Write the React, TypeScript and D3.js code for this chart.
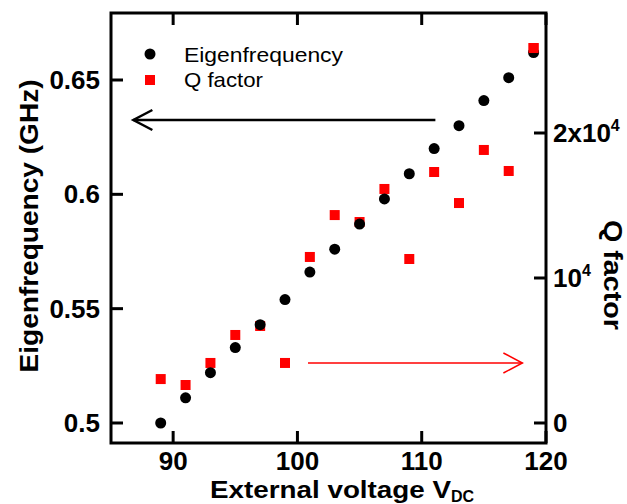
import React from 'react';
import * as d3 from 'd3';

const voltages = [89, 91, 93, 95, 97, 99, 101, 103, 105, 107, 109, 111, 113, 115, 117, 119];
const eigenfrequency = [0.5, 0.511, 0.522, 0.533, 0.543, 0.554, 0.566, 0.576, 0.587, 0.598, 0.609, 0.62, 0.63, 0.641, 0.651, 0.662];
const qFactor = [3030, 2620, 4140, 6070, 6690, 4140, 11450, 14340, 13860, 16140, 11310, 17310, 15170, 18830, 17380, 25860];

const xTicks = [90, 100, 110, 120];
const leftTicks = [0.5, 0.55, 0.6, 0.65];
const leftTickLabels = ['0.5', '0.55', '0.6', '0.65'];
const rightTicks = [0, 10000, 20000];
const rightTickLabels = [['0', ''], ['10', '4'], ['2x10', '4']];

// arrow ends in data units: [x, y]
const blackArrow = [[111.1, 0.6325], [86.8, 0.6325]];
const redArrow = [[100.85, 4140], [118.1, 4140]];

const W = 627, H = 504;
const margin = { top: 13, right: 81, bottom: 61, left: 111 };
const font = 'Liberation Sans, Arial, sans-serif';

const App = () => {
    const x = d3.scaleLinear().domain([85, 120]).range([margin.left, W - margin.right]);
    const yL = d3.scaleLinear().domain([0.49125, 0.6793]).range([H - margin.bottom, margin.top]);
    const yR = d3.scaleLinear().domain([-1380, 28276]).range([H - margin.bottom, margin.top]);

    const x0 = margin.left, x1 = W - margin.right;
    const y0 = H - margin.bottom, y1 = margin.top;
    const tick = 12;

    const arrowHead = (tx, ty, dir, len, half) =>
        `M${tx - dir * len},${ty - half}L${tx},${ty}L${tx - dir * len},${ty + half}`;

    return (
        <svg width={W} height={H} style={{ position: 'absolute', left: 0, top: 0, background: '#fff' }}
            fontFamily={font}>
            {/* frame */}
            <rect x={x0} y={y1} width={x1 - x0} height={y0 - y1} fill="none" stroke="#000" strokeWidth={3} />

            {/* x ticks, top and bottom */}
            {xTicks.map(t => (
                <g key={'x' + t}>
                    <line x1={x(t)} x2={x(t)} y1={y0} y2={y0 - tick} stroke="#000" strokeWidth={3} />
                    <line x1={x(t)} x2={x(t)} y1={y1} y2={y1 + tick} stroke="#000" strokeWidth={3} />
                    <text x={x(t)} y={y0 + 27} textAnchor="middle" fontSize={26} fontWeight="bold">{t}</text>
                </g>
            ))}

            {/* left ticks */}
            {leftTicks.map((t, i) => (
                <g key={'l' + t}>
                    <line x1={x0} x2={x0 + tick} y1={yL(t)} y2={yL(t)} stroke="#000" strokeWidth={3} />
                    <text x={x0 - 11} y={yL(t) + 9} textAnchor="end" fontSize={26} fontWeight="bold">{leftTickLabels[i]}</text>
                </g>
            ))}

            {/* right ticks */}
            {rightTicks.map((t, i) => (
                <g key={'r' + t}>
                    <line x1={x1} x2={x1 - tick} y1={yR(t)} y2={yR(t)} stroke="#000" strokeWidth={3} />
                    <text x={x1 + 7} y={yR(t) + 9} fontSize={26} fontWeight="bold">
                        {rightTickLabels[i][0]}
                        {rightTickLabels[i][1] && <tspan fontSize={16} dy={-11}>{rightTickLabels[i][1]}</tspan>}
                    </text>
                </g>
            ))}

            {/* arrows */}
            <path d={`M${x(blackArrow[0][0])},${yL(blackArrow[0][1])}L${x(blackArrow[1][0])},${yL(blackArrow[1][1])}`}
                stroke="#000" strokeWidth={2.5} fill="none" />
            <path d={arrowHead(x(blackArrow[1][0]), yL(blackArrow[1][1]), -1, 19, 10)} stroke="#000" strokeWidth={2.5} fill="none" />
            <path d={`M${x(redArrow[0][0])},${yR(redArrow[0][1])}L${x(redArrow[1][0])},${yR(redArrow[1][1])}`}
                stroke="#ff0000" strokeWidth={1.5} fill="none" />
            <path d={arrowHead(x(redArrow[1][0]), yR(redArrow[1][1]), 1, 19, 10)} stroke="#ff0000" strokeWidth={1.5} fill="none" />

            {/* Q factor squares */}
            {voltages.map((v, i) => (
                <rect key={'q' + v} x={x(v) - 5} y={yR(qFactor[i]) - 5} width={10} height={10} fill="#ff0000" />
            ))}
            {/* eigenfrequency dots */}
            {voltages.map((v, i) => (
                <circle key={'e' + v} cx={x(v)} cy={yL(eigenfrequency[i])} r={5.5} fill="#000" />
            ))}
            {/* red square at 119 drawn over the dot, as in the original */}
            <rect x={x(voltages[15]) - 5} y={yR(qFactor[15]) - 5} width={10} height={10} fill="#ff0000" />

            {/* legend */}
            <circle cx={150} cy={54} r={5.5} fill="#000" />
            <text x={184} y={62} fontSize={21} textLength={159} lengthAdjust="spacingAndGlyphs">Eigenfrequency</text>
            <rect x={145} y={75} width={10} height={10} fill="#ff0000" />
            <text x={184} y={87} fontSize={21} textLength={79} lengthAdjust="spacingAndGlyphs">Q factor</text>

            {/* axis titles */}
            <text x={210} y={498} fontSize={24} fontWeight="bold" textLength={241} lengthAdjust="spacingAndGlyphs">
                External voltage V
            </text>
            <text x={451} y={502} fontSize={16} fontWeight="bold">DC</text>
            <text transform={`translate(38,226) rotate(-90)`} textAnchor="middle" fontSize={26} fontWeight="bold"
                textLength={293} lengthAdjust="spacingAndGlyphs">
                Eigenfrequency (GHz)
            </text>
            <text transform={`translate(604,275) rotate(90)`} textAnchor="middle" fontSize={26} fontWeight="bold"
                textLength={110} lengthAdjust="spacingAndGlyphs">
                Q factor
            </text>
        </svg>
    );
};

export default App;
